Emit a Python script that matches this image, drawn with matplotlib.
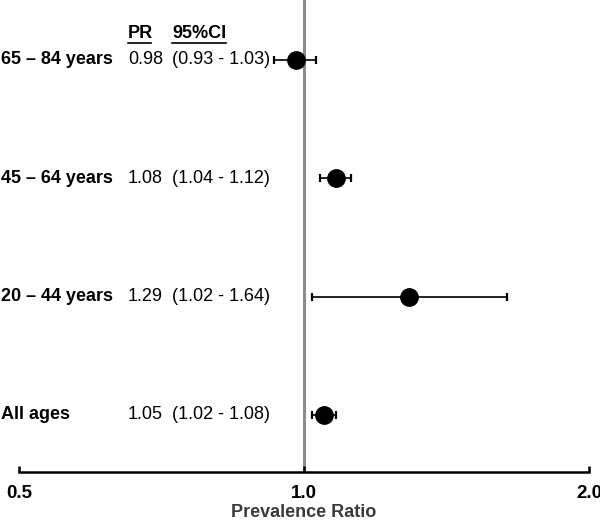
import matplotlib.pyplot as plt
import matplotlib.transforms as mtransforms

plt.rcParams['font.family'] = ['Liberation Sans', 'DejaVu Sans']

# Datos (de arriba hacia abajo)
grupos = ['65 \u2013 84 years', '45 \u2013 64 years', '20 \u2013 44 years', 'All ages']
pr = [0.98, 1.08, 1.29, 1.05]
ci_low = [0.93, 1.04, 1.02, 1.02]
ci_high = [1.03, 1.12, 1.64, 1.08]
pr_txt = ['0.98', '1.08', '1.29', '1.05']
ci_txt = ['(0.93 - 1.03)', '(1.04 - 1.12)', '(1.02 - 1.64)', '(1.02 - 1.08)']
ticks = [0.5, 1.0, 2.0]
tick_labels = ['0.5', '1.0', '2.0']

fig = plt.figure(figsize=(6, 5.24), dpi=100)
ax = fig.add_axes([19/600, 52/524, 570/600, 472/524])

ypos = [4, 3, 2, 1]
err = [[p - l for p, l in zip(pr, ci_low)], [h - p for p, h in zip(pr, ci_high)]]

# Linea de referencia en 1.0
ax.axvline(1.0, color='#8c8c8c', linewidth=2.2, zorder=1)

ax.errorbar(pr, ypos, xerr=err, fmt='o', color='black', markersize=12.5,
            elinewidth=1.2, capsize=3, capthick=1.6, zorder=3)

ax.set_xscale('log')
ax.set_xlim(0.5, 2.0)
ax.set_ylim(0.518, 4.507)
ax.set_xticks(ticks)
ax.set_xticklabels(tick_labels, fontweight='bold', fontsize=13.5)
ax.minorticks_off()
ax.tick_params(axis='x', direction='in', length=4, width=1.8, pad=9)
ax.set_yticks([])
for s in ['left', 'right', 'top']:
    ax.spines[s].set_visible(False)
ax.spines['bottom'].set_linewidth(1.8)
ax.set_xlabel('Prevalence Ratio', fontweight='bold', fontsize=13, color='#3a3a3a', labelpad=2)

# Texto de la columna izquierda
trans = mtransforms.blended_transform_factory(fig.transFigure, ax.transData)
for y, g, p, c in zip(ypos, grupos, pr_txt, ci_txt):
    ax.text(1/600, y, g, transform=trans, fontweight='bold', fontsize=13, va='center', ha='left')
    ax.text(128/600, y, p, transform=trans, fontsize=13, va='center', ha='left')
    ax.text(172/600, y, c, transform=trans, fontsize=13, va='center', ha='left')

ax.text(128/600, 4.22, 'PR', transform=trans, fontsize=13, fontweight='bold', va='center', ha='left')
ax.text(172/600, 4.22, '95%CI', transform=trans, fontsize=13, fontweight='bold', va='center', ha='left')
# subrayados
ax.plot([128/600, 151/600], [4.145, 4.145], transform=trans, color='black', linewidth=1.2, clip_on=False)
ax.plot([172/600, 226/600], [4.145, 4.145], transform=trans, color='black', linewidth=1.2, clip_on=False)

fig.savefig('out.png', dpi=100)
